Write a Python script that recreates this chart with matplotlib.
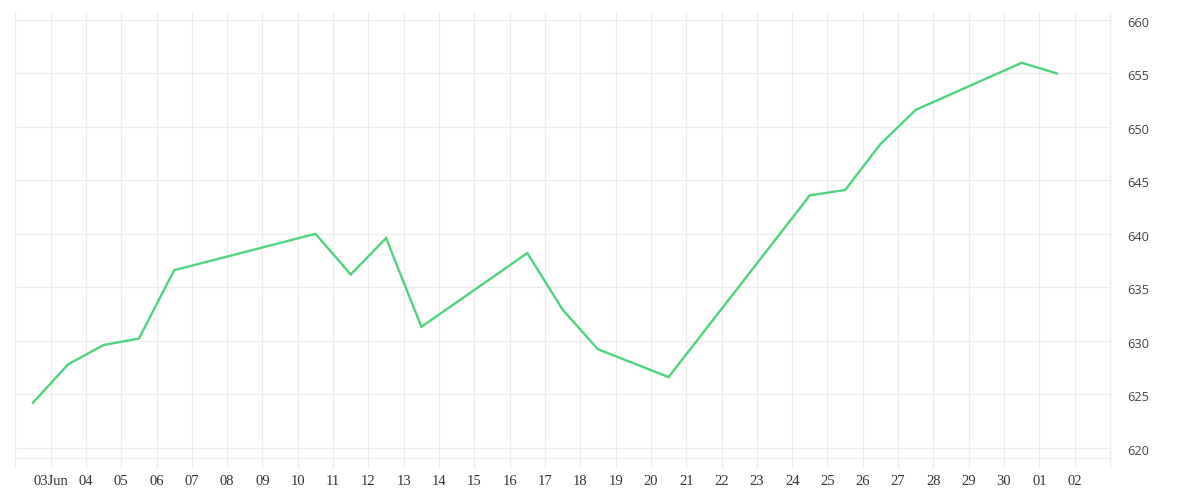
import matplotlib
matplotlib.use("Agg")
import matplotlib.pyplot as plt
import matplotlib.transforms as mtransforms
from datetime import datetime, timedelta

# data (points sit at midday)
days = ["2024-06-02", "2024-06-03", "2024-06-04", "2024-06-05", "2024-06-06",
        "2024-06-10", "2024-06-11", "2024-06-12", "2024-06-13", "2024-06-16",
        "2024-06-17", "2024-06-18", "2024-06-20", "2024-06-24", "2024-06-25",
        "2024-06-26", "2024-06-27", "2024-06-30", "2024-07-01"]
values = [624.2, 627.8, 629.6, 630.2, 636.6,
          640.0, 636.2, 639.6, 631.3, 638.2,
          632.9, 629.2, 626.6, 643.6, 644.1,
          648.4, 651.6, 656.0, 655.0]
y_ticks = [620, 625, 630, 635, 640, 645, 650, 655, 660]

x = [datetime.strptime(d, "%Y-%m-%d") + timedelta(hours=12) for d in days]
start = datetime(2024, 6, 2)
end = datetime(2024, 7, 3)
tick_days = [start + timedelta(days=i) for i in range((end - start).days + 1)]
tick_labels = []
for i, t in enumerate(tick_days):
    if i == 0 or i == len(tick_days) - 1:
        tick_labels.append("")
    elif i == 1:
        tick_labels.append(t.strftime("%d%b"))
    else:
        tick_labels.append(t.strftime("%d"))

grid_c = "#ececec"

fig = plt.figure(figsize=(12, 5), dpi=100)
ax = fig.add_axes([15.3 / 1200, 1 - 458 / 500, (1110 - 15.3) / 1200, 446 / 500])

ax.plot(x, values, color="#4ed47c", lw=1.7, solid_joinstyle="miter")

ax.set_xlim(start, end)
ax.set_ylim(619.03, 660.75)
ax.set_xticks(tick_days)
ax.set_xticklabels(tick_labels)
ax.set_yticks(y_ticks)
ax.yaxis.tick_right()

ax.grid(True, color=grid_c, lw=0.8)
ax.set_axisbelow(True)
for s in ax.spines.values():
    s.set_color(grid_c)
    s.set_linewidth(0.8)
ax.spines["top"].set_visible(False)

ax.tick_params(axis="x", length=7.2, width=0.8, color=grid_c, pad=5,
               labelsize=10.5, labelcolor="#333333")
ax.tick_params(axis="y", length=0, pad=12.5, labelsize=9.2, labelcolor="#444444")
for lab in ax.get_xticklabels():
    lab.set_family("Liberation Serif")
shift = mtransforms.ScaledTranslation(0, -2 / 100, fig.dpi_scale_trans)
for lab in ax.get_yticklabels():
    lab.set_family("Open Sans")
    lab.set_transform(lab.get_transform() + shift)

fig.savefig("out.png", dpi=100)
